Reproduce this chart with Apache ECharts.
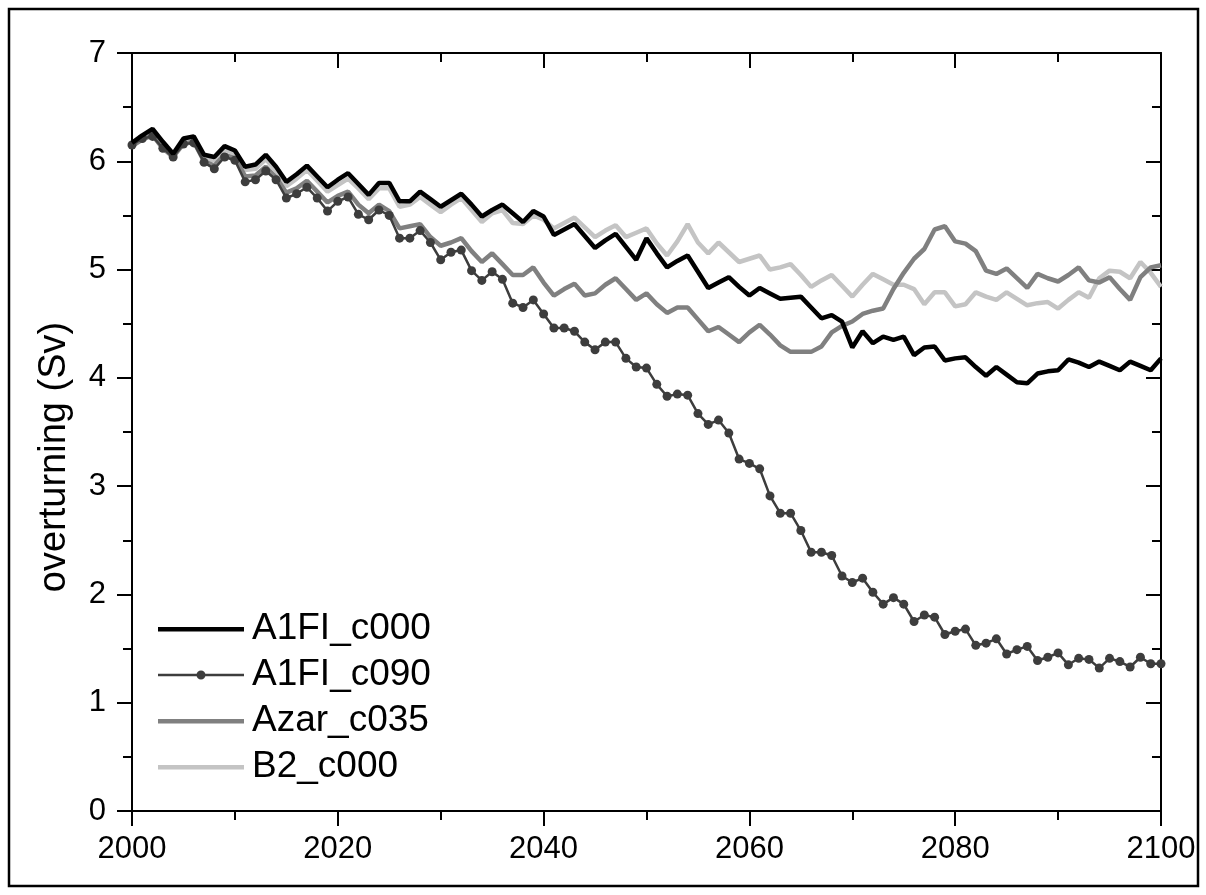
<!DOCTYPE html>
<html>
<head>
<meta charset="utf-8">
<title>Overturning 2000–2100</title>
<script src="https://cdn.jsdelivr.net/npm/echarts@6/dist/echarts.min.js"></script>
<style>
  html, body { margin: 0; padding: 0; background: #ffffff; }
  #chart { width: 1206px; height: 895px; }
</style>
</head>
<body>
<div id="chart"></div>
<script>
// Annual overturning (Sv), 2000–2100, for four scenarios
const startYear = 2000;
const endYear = 2100;
const years = Array.from({ length: endYear - startYear + 1 }, (_, i) => startYear + i);

const xTicks = [2000, 2020, 2040, 2060, 2080, 2100];
const yTicks = [0, 1, 2, 3, 4, 5, 6, 7];

const seriesNames = ['A1FI_c000', 'A1FI_c090', 'Azar_c035', 'B2_c000'];

const a1fiC000 = [
  6.17, 6.24, 6.30, 6.18, 6.07, 6.21, 6.23, 6.06, 6.04, 6.14,
  6.10, 5.95, 5.97, 6.06, 5.95, 5.81, 5.88, 5.96, 5.86, 5.76,
  5.83, 5.89, 5.79, 5.69, 5.80, 5.80, 5.63, 5.63, 5.72, 5.65,
  5.58, 5.64, 5.70, 5.60, 5.49, 5.55, 5.60, 5.52, 5.44, 5.54,
  5.49, 5.32, 5.37, 5.42, 5.31, 5.20, 5.27, 5.33, 5.21, 5.09,
  5.29, 5.15, 5.02, 5.08, 5.13, 4.98, 4.83, 4.88, 4.93, 4.84,
  4.76, 4.83, 4.78, 4.73, 4.74, 4.75, 4.65, 4.55, 4.58, 4.52,
  4.28, 4.43, 4.32, 4.38, 4.35, 4.38, 4.21, 4.28, 4.29, 4.16,
  4.18, 4.19, 4.10, 4.02, 4.10, 4.03, 3.96, 3.95, 4.04, 4.06,
  4.07, 4.17, 4.14, 4.10, 4.15, 4.11, 4.07, 4.15, 4.11, 4.07,
  4.18
];

const a1fiC090 = [
  6.15, 6.21, 6.23, 6.12, 6.04, 6.16, 6.17, 5.99, 5.93, 6.04,
  6.01, 5.81, 5.83, 5.91, 5.83, 5.66, 5.70, 5.76, 5.66, 5.54,
  5.63, 5.67, 5.51, 5.46, 5.55, 5.50, 5.29, 5.29, 5.36, 5.25,
  5.09, 5.16, 5.18, 4.99, 4.90, 4.98, 4.91, 4.69, 4.65, 4.72,
  4.59, 4.46, 4.46, 4.43, 4.33, 4.26, 4.33, 4.33, 4.18, 4.10,
  4.09, 3.94, 3.83, 3.85, 3.84, 3.67, 3.57, 3.61, 3.49, 3.25,
  3.21, 3.16, 2.91, 2.75, 2.75, 2.59, 2.39, 2.39, 2.36, 2.17,
  2.11, 2.15, 2.02, 1.91, 1.97, 1.91, 1.75, 1.81, 1.79, 1.63,
  1.66, 1.68, 1.53, 1.55, 1.59, 1.45, 1.49, 1.52, 1.39, 1.42,
  1.46, 1.35, 1.41, 1.40, 1.32, 1.41, 1.38, 1.33, 1.42, 1.36,
  1.36
];

const azarC035 = [
  6.14, 6.20, 6.24, 6.12, 6.04, 6.16, 6.18, 6.00, 5.96, 6.06,
  6.03, 5.86, 5.87, 5.95, 5.85, 5.71, 5.75, 5.82, 5.72, 5.62,
  5.68, 5.72, 5.60, 5.52, 5.60, 5.54, 5.38, 5.40, 5.42, 5.30,
  5.22, 5.25, 5.29, 5.17, 5.07, 5.15, 5.05, 4.95, 4.95, 5.02,
  4.88, 4.76, 4.82, 4.87, 4.76, 4.78, 4.86, 4.92, 4.82, 4.72,
  4.78, 4.68, 4.60, 4.65, 4.65, 4.54, 4.43, 4.47, 4.40, 4.33,
  4.42, 4.49, 4.40, 4.30, 4.24, 4.24, 4.24, 4.29, 4.42, 4.48,
  4.52, 4.59, 4.62, 4.64, 4.82, 4.97, 5.10, 5.19, 5.37, 5.40,
  5.26, 5.24, 5.17, 4.99, 4.96, 5.01, 4.92, 4.83, 4.96, 4.92,
  4.89, 4.95, 5.02, 4.90, 4.88, 4.93, 4.82, 4.72, 4.93, 5.02,
  5.04
];

const b2C000 = [
  6.15, 6.21, 6.26, 6.15, 6.05, 6.18, 6.20, 6.03, 6.01, 6.11,
  6.07, 5.92, 5.93, 6.02, 5.91, 5.77, 5.84, 5.92, 5.82, 5.72,
  5.78, 5.84, 5.75, 5.65, 5.75, 5.75, 5.58, 5.60, 5.67, 5.60,
  5.53, 5.60, 5.66, 5.55, 5.44, 5.52, 5.55, 5.43, 5.42, 5.50,
  5.46, 5.38, 5.43, 5.48, 5.39, 5.30, 5.36, 5.41, 5.30, 5.34,
  5.38, 5.24, 5.13, 5.26, 5.42, 5.25, 5.15, 5.25, 5.16, 5.07,
  5.10, 5.13, 5.00, 5.02, 5.05, 4.95, 4.84, 4.90, 4.95, 4.85,
  4.75, 4.86, 4.96, 4.91, 4.86, 4.86, 4.82, 4.68, 4.79, 4.79,
  4.66, 4.68, 4.79, 4.75, 4.72, 4.79, 4.73, 4.67, 4.69, 4.70,
  4.64, 4.72, 4.79, 4.74, 4.92, 4.99, 4.98, 4.92, 5.07, 4.97,
  4.84
];

const pairs = vals => years.map((y, i) => [y, vals[i]]);

const FONT = '"Liberation Sans", Arial, Helvetica, sans-serif';
const AXIS_LINE = { show: true, onZero: false, lineStyle: { color: '#000', width: 2 } };
const TICK_STYLE = { color: '#000', width: 2 };
const TICK_LABEL = { color: '#000', fontSize: 31, fontFamily: FONT };

function xAxisDef(position, showLabels) {
  return {
    type: 'value', position: position, min: startYear, max: endYear, interval: 20,
    axisLine: AXIS_LINE,
    axisTick: { show: true, inside: !showLabels, length: 15, lineStyle: TICK_STYLE },
    minorTick: { show: true, splitNumber: 2, length: 9, lineStyle: TICK_STYLE },
    splitLine: { show: false },
    axisLabel: Object.assign({
      show: showLabels, margin: 23,
      formatter: v => (xTicks.indexOf(v) >= 0 ? String(v) : '')
    }, TICK_LABEL)
  };
}

function yAxisDef(position, showLabels) {
  return {
    type: 'value', position: position, min: 0, max: 7, interval: 1,
    axisLine: AXIS_LINE,
    axisTick: { show: true, inside: !showLabels, length: 15, lineStyle: TICK_STYLE },
    minorTick: { show: true, splitNumber: 2, length: 9, lineStyle: TICK_STYLE },
    splitLine: { show: false },
    axisLabel: Object.assign({
      show: showLabels, margin: 26,
      formatter: v => (yTicks.indexOf(v) >= 0 ? String(v) : '')
    }, TICK_LABEL)
  };
}

// Legend keys: a thick bar for plain lines, a thin bar with a dot for the marked series.
// The leading moves pin each icon's box to the full 86 x 14 key area.
const ICON_BAR = 'path://M0,0M86,14M0,5h86v4.5h-86z';
const ICON_DOT = 'path://M0,0M86,14M0,5.8h86v2.5h-86zM38.5,7a4.5,4.5 0 1,1 9,0a4.5,4.5 0 1,1 -9,0z';

const chart = echarts.init(document.getElementById('chart'), null, { renderer: 'canvas' });

chart.setOption({
  animation: false,
  backgroundColor: '#ffffff',
  grid: { left: 132, right: 45, top: 53, bottom: 84, containLabel: false },
  xAxis: [xAxisDef('bottom', true), xAxisDef('top', false)],
  yAxis: [yAxisDef('left', true), yAxisDef('right', false)],
  legend: {
    data: [
      { name: seriesNames[0], icon: ICON_BAR },
      { name: seriesNames[1], icon: ICON_DOT },
      { name: seriesNames[2], icon: ICON_BAR },
      { name: seriesNames[3], icon: ICON_BAR }
    ],
    orient: 'vertical',
    left: 153,
    top: 604,
    itemWidth: 86,
    itemHeight: 14,
    itemGap: 6,
    textStyle: { color: '#000', fontSize: 37, fontFamily: FONT, lineHeight: 40, padding: [0, 0, 0, 3] }
  },
  graphic: [
    {
      type: 'rect', silent: true,
      shape: { x: 9, y: 9, width: 1189, height: 877 },
      style: { fill: 'none', stroke: '#000', lineWidth: 2.5 }
    },
    {
      type: 'text', silent: true,
      x: 55, y: 457, rotation: Math.PI / 2,
      style: {
        text: 'overturning (Sv)', fill: '#000', fontSize: 38, fontFamily: FONT,
        align: 'center', verticalAlign: 'middle'
      }
    }
  ],
  series: [
    {
      name: seriesNames[0], type: 'line', data: pairs(a1fiC000), z: 6,
      symbol: 'none', lineStyle: { color: '#000000', width: 4.5 }, itemStyle: { color: '#000000' }
    },
    {
      name: seriesNames[1], type: 'line', data: pairs(a1fiC090), z: 5,
      symbol: 'circle', symbolSize: 9, showAllSymbol: true,
      lineStyle: { color: '#3d3d3d', width: 2.5 }, itemStyle: { color: '#3d3d3d' }
    },
    {
      name: seriesNames[2], type: 'line', data: pairs(azarC035), z: 4,
      symbol: 'none', lineStyle: { color: '#808080', width: 4.5 }, itemStyle: { color: '#808080' }
    },
    {
      name: seriesNames[3], type: 'line', data: pairs(b2C000), z: 3,
      symbol: 'none', lineStyle: { color: '#c4c4c4', width: 4.5 }, itemStyle: { color: '#c4c4c4' }
    }
  ]
});
</script>
</body>
</html>
